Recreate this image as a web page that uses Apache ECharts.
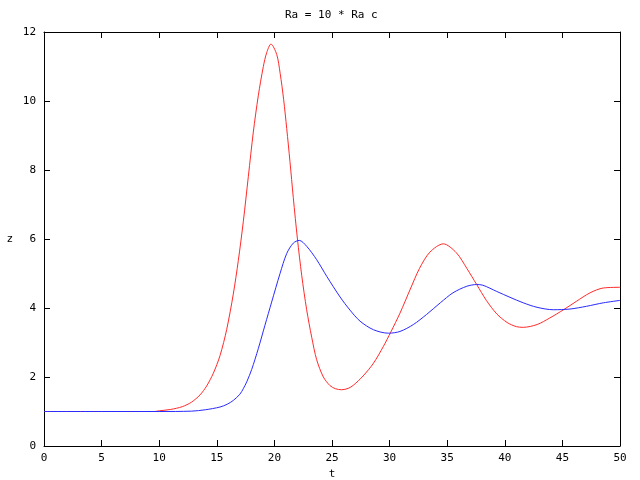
<!DOCTYPE html>
<html>
<head>
<meta charset="utf-8">
<script src="https://cdn.jsdelivr.net/npm/echarts@6/dist/echarts.min.js"></script>
<style>html,body{margin:0;padding:0;background:#fff}#c{width:640px;height:480px}</style>
</head>
<body>
<div id="c"></div>
<script>
var titleText = 'Ra = 10 * Ra c';
var xName = 't';
var yName = 'z';
var xTicks = [0, 5, 10, 15, 20, 25, 30, 35, 40, 45, 50];
var yTicks = [0, 2, 4, 6, 8, 10, 12];

var redT = [0, 5, 9.6, 10, 11, 12, 12.8, 13.54, 14.12, 14.7, 15.28, 15.86, 16.43, 16.87, 17.3, 17.74, 18.17, 18.6, 19.04, 19.33, 19.7, 20.2, 20.5, 20.8, 21.07, 21.35, 21.64, 22.0, 22.37, 22.8, 23.24, 23.67, 24.25, 24.83, 25.3, 25.84, 26.4, 26.85, 27.7, 28.6, 29.45, 30.1, 30.9, 31.8, 32.6, 33.5, 34.66, 35.8, 36.7, 37.56, 38.4, 39.3, 40.2, 41.0, 41.6, 42.8, 43.9, 45.1, 46.2, 47.4, 48.55, 50];
var redZ = [1.0, 1.0, 1.0, 1.02, 1.06, 1.14, 1.27, 1.48, 1.74, 2.11, 2.62, 3.38, 4.40, 5.38, 6.5, 7.82, 9.1, 10.15, 11.0, 11.4, 11.65, 11.35, 10.8, 10.05, 9.2, 8.25, 7.2, 6.0, 4.95, 3.95, 3.15, 2.5, 2.0, 1.75, 1.66, 1.63, 1.67, 1.76, 2.03, 2.4, 2.88, 3.3, 3.85, 4.55, 5.15, 5.62, 5.86, 5.6, 5.15, 4.68, 4.22, 3.83, 3.58, 3.46, 3.44, 3.52, 3.71, 3.95, 4.19, 4.44, 4.58, 4.60];

var blueT = [0, 5, 10, 12.8, 14.0, 15.28, 15.9, 16.43, 17.0, 17.3, 17.6, 18.03, 18.6, 19.18, 19.76, 20.49, 21.07, 21.64, 22.16, 22.8, 23.67, 24.54, 25.7, 26.56, 27.43, 28.6, 29.9, 30.9, 32.06, 33.2, 34.4, 35.5, 36.7, 37.56, 38.1, 39.3, 40.45, 41.6, 42.8, 44.2, 45.66, 47.1, 48.55, 50];
var blueZ = [1.0, 1.0, 1.0, 1.01, 1.05, 1.13, 1.21, 1.32, 1.5, 1.66, 1.86, 2.22, 2.82, 3.5, 4.17, 5.0, 5.58, 5.88, 5.96, 5.79, 5.40, 4.92, 4.32, 3.94, 3.62, 3.37, 3.27, 3.32, 3.52, 3.81, 4.15, 4.44, 4.63, 4.68, 4.66, 4.48, 4.31, 4.15, 4.02, 3.95, 3.97, 4.05, 4.15, 4.22];

function pairs(t, z) { return t.map(function (v, i) { return [v, z[i]]; }); }

var FONT = 'DejaVu Sans Mono';
var chart = echarts.init(document.getElementById('c'), null, { renderer: 'canvas' });

var xMin = xTicks[0], xMax = xTicks[xTicks.length - 1], xInt = xTicks[1] - xTicks[0];
var yMin = yTicks[0], yMax = yTicks[yTicks.length - 1], yInt = yTicks[1] - yTicks[0];

function axisLine() { return { show: true, onZero: false, lineStyle: { color: '#000', width: 1 } }; }
function axisTick() { return { show: true, inside: true, length: 6, lineStyle: { color: '#000', width: 1 } }; }

chart.setOption({
  animation: false,
  backgroundColor: '#fff',
  title: {
    text: titleText, left: 285, top: 10, padding: 0,
    textStyle: { fontFamily: FONT, fontSize: 11, fontWeight: 'normal', color: '#000' }
  },
  grid: { left: 44, right: 20, top: 32, bottom: 34, containLabel: false, outerBoundsMode: 'none' },
  xAxis: [{
    type: 'value', min: xMin, max: xMax, interval: xInt, position: 'bottom',
    name: xName, nameLocation: 'middle', nameGap: 22,
    nameTextStyle: { fontFamily: FONT, fontSize: 11, color: '#000' },
    axisLine: axisLine(), axisTick: axisTick(), splitLine: { show: false },
    axisLabel: { margin: 7, fontFamily: FONT, fontSize: 11, color: '#000' }
  }, {
    type: 'value', min: xMin, max: xMax, interval: xInt, position: 'top',
    axisLine: axisLine(), axisTick: axisTick(), splitLine: { show: false },
    axisLabel: { show: false }
  }],
  yAxis: [{
    type: 'value', min: yMin, max: yMax, interval: yInt, position: 'left',
    name: yName, nameLocation: 'middle', nameGap: 31, nameRotate: 0,
    nameTextStyle: { fontFamily: FONT, fontSize: 11, color: '#000' },
    axisLine: axisLine(), axisTick: axisTick(), splitLine: { show: false },
    axisLabel: { margin: 8, fontFamily: FONT, fontSize: 11, color: '#000' }
  }, {
    type: 'value', min: yMin, max: yMax, interval: yInt, position: 'right',
    axisLine: axisLine(), axisTick: axisTick(), splitLine: { show: false },
    axisLabel: { show: false }
  }],
  series: [{
    type: 'line', data: pairs(redT, redZ), smooth: 0.3, symbol: 'none',
    lineStyle: { color: '#ff2a2a', width: 1 }, xAxisIndex: 0, yAxisIndex: 0
  }, {
    type: 'line', data: pairs(blueT, blueZ), smooth: 0.3, symbol: 'none',
    lineStyle: { color: '#2a2aff', width: 1 }, xAxisIndex: 0, yAxisIndex: 0
  }]
});
</script>
</body>
</html>
